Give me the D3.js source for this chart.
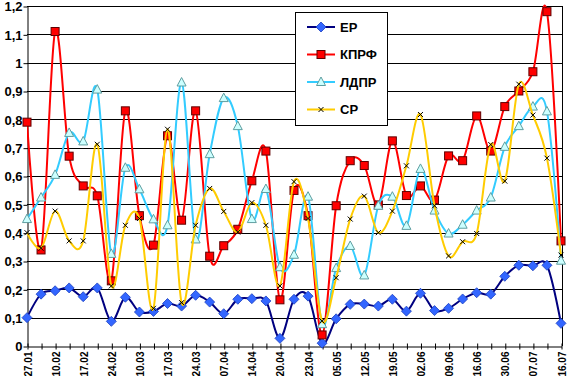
<!DOCTYPE html>
<html lang="ru">
<head>
    <meta charset="UTF-8">
    <title>Рейтинги партий</title>
    <script src="https://cdnjs.cloudflare.com/ajax/libs/d3/7.8.5/d3.min.js"></script>
    <style>
        body { margin: 0; background: #fff; }
        text { font-family: "Liberation Sans", Arial, sans-serif; font-weight: bold; }
    </style>
</head>
<body>
    <div id="chart"></div>
    <script>
        // подписи оси X (каждая вторая точка)
        const tickLabels = ['27.01', '10.02', '17.02', '24.02', '10.03', '17.03', '24.03', '07.04', '14.04', '20.04',
            '23.04', '05.05', '12.05', '19.05', '02.06', '09.06', '16.06', '30.06', '07.07', '16.07'];

        const seriesNames = ['ЕР', 'КПРФ', 'ЛДПР', 'СР'];

        // значения рядов (39 точек)
        const er = [0.10, 0.183, 0.195, 0.205, 0.174, 0.205, 0.087, 0.172, 0.12, 0.122,
            0.15, 0.141, 0.179, 0.155, 0.114, 0.165, 0.167, 0.159, 0.027,
            0.165, 0.176, 0.01, 0.096, 0.147, 0.148, 0.141, 0.165, 0.123, 0.186,
            0.125, 0.133, 0.166, 0.188, 0.183, 0.246, 0.285, 0.283, 0.285, 0.08];
        const kprf = [0.79, 0.339, 1.11, 0.67, 0.565, 0.53, 0.23, 0.83, 0.46, 0.356,
            0.742, 0.444, 0.83, 0.317, 0.354, 0.412, 0.583, 0.688, 0.163,
            0.549, 0.46, 0.039, 0.495, 0.654, 0.637, 0.498, 0.724, 0.531, 0.565,
            0.515, 0.671, 0.654, 0.812, 0.688, 0.845, 0.90, 0.968, 1.18, 0.371];
        const ldpr = [0.448, 0.524, 0.604, 0.752, 0.722, 0.905, 0.325, 0.629, 0.553, 0.447,
            0.426, 0.93, 0.376, 0.677, 0.875, 0.776, 0.448, 0.554, 0.278,
            0.322, 0.527, 0.077, 0.275, 0.353, 0.249, 0.495, 0.527, 0.424, 0.625,
            0.478, 0.397, 0.428, 0.478, 0.524, 0.703, 0.776, 0.845, 0.828, 0.301];
        const sr = [0.40, 0.345, 0.476, 0.371, 0.371, 0.712, 0.212, 0.426, 0.45, 0.133,
            0.765, 0.153, 0.426, 0.556, 0.475, 0.402, 0.506, 0.426, 0.212,
            0.58, 0.45, 0.088, 0.241, 0.448, 0.529, 0.40, 0.476, 0.636, 0.817,
            0.495, 0.318, 0.368, 0.397, 0.711, 0.582, 0.924, 0.815, 0.663, 0.321];

        const yTicks = [0, 0.1, 0.2, 0.3, 0.4, 0.5, 0.6, 0.7, 0.8, 0.9, 1, 1.1, 1.2];

        // размеры
        const width = 567, height = 376;
        const mLeft = 27, mRight = 562, mTop = 6, mBottom = 346;

        const svg = d3.select('#chart').append('svg')
            .attr('width', width)
            .attr('height', height);

        const x = d3.scaleLinear().domain([0, er.length - 1]).range([mLeft, mRight - 1]);
        const y = d3.scaleLinear().domain([0, 1.2]).range([mBottom, mTop]);

        // сетка
        svg.append('g').selectAll('line')
            .data(yTicks.slice(1))
            .enter().append('line')
            .attr('x1', mLeft).attr('x2', mRight)
            .attr('y1', d => Math.round(y(d)) + 0.5).attr('y2', d => Math.round(y(d)) + 0.5)
            .attr('stroke', '#000').attr('stroke-width', 1);

        // правая рамка
        svg.append('line')
            .attr('x1', mRight + 0.5).attr('x2', mRight + 0.5)
            .attr('y1', mTop).attr('y2', mBottom)
            .attr('stroke', '#000');

        // ось Y
        const fmt = d => String(+d.toFixed(1)).replace('.', ',');
        const yAxis = d3.axisLeft(y).tickValues(yTicks).tickFormat(fmt).tickSize(4).tickSizeOuter(0);
        const gy = svg.append('g')
            .attr('transform', `translate(${mLeft + 0.5},0.5)`)
            .call(yAxis);
        gy.select('.domain').attr('stroke', '#000');
        gy.selectAll('text').attr('font-size', 13).attr('font-family', null).attr('x', -5).attr('fill', '#000');

        // ось X
        const xAxis = d3.axisBottom(x).tickValues(d3.range(er.length)).tickSize(3).tickSizeOuter(0)
            .tickFormat(i => i % 2 === 0 ? tickLabels[i / 2] : '');
        const gx = svg.append('g')
            .attr('transform', `translate(0.5,${mBottom + 0.5})`)
            .call(xAxis);
        gx.select('.domain').attr('stroke', '#000');
        gx.selectAll('.tick line').attr('y1', -3);
        gx.selectAll('text')
            .attr('font-size', 10).attr('font-family', null).attr('fill', '#000')
            .attr('transform', 'rotate(-90)')
            .attr('text-anchor', 'end')
            .attr('x', -5).attr('y', 0).attr('dy', '0.35em');

        // клип области построения (только для линий)
        svg.append('clipPath').attr('id', 'plot')
            .append('rect').attr('x', mLeft).attr('y', mTop - 2).attr('width', mRight - mLeft + 2).attr('height', mBottom - mTop + 2);

        const line = d3.line()
            .x((d, i) => x(i))
            .y(d => y(d))
            .curve(d3.curveCardinal.tension(0));

        const series = [
            { name: seriesNames[0], values: er, color: '#000080' },
            { name: seriesNames[1], values: kprf, color: '#FF0000' },
            { name: seriesNames[2], values: ldpr, color: '#33CCFF' },
            { name: seriesNames[3], values: sr, color: '#FFCC00' }
        ];

        // маркеры
        function marker(g, k) {
            if (k === 0) {
                g.append('path').attr('d', 'M0,-5L5,0L0,5L-5,0Z')
                    .attr('fill', '#3366FF').attr('stroke', '#1a3fbf').attr('stroke-width', 0.8);
            } else if (k === 1) {
                g.append('rect').attr('x', -4).attr('y', -4).attr('width', 8).attr('height', 8)
                    .attr('fill', '#FF0000').attr('stroke', '#600000').attr('stroke-width', 1);
            } else if (k === 2) {
                g.append('path').attr('d', 'M0,-5L4.5,3.5L-4.5,3.5Z')
                    .attr('fill', '#CCFFFF').attr('stroke', '#5f9ea0').attr('stroke-width', 1);
            } else {
                g.append('path').attr('d', 'M-2.5,-2.5L2.5,2.5M-2.5,2.5L2.5,-2.5')
                    .attr('stroke', '#000').attr('stroke-width', 1);
            }
        }

        series.forEach((s, k) => {
            const g = svg.append('g');
            g.append('path')
                .attr('clip-path', 'url(#plot)')
                .attr('d', line(s.values))
                .attr('fill', 'none')
                .attr('stroke', s.color)
                .attr('stroke-width', 2);
            g.selectAll('.m')
                .data(s.values)
                .enter().append('g')
                .attr('class', 'm')
                .attr('transform', (d, i) => `translate(${x(i)},${y(d)})`)
                .each(function () { marker(d3.select(this), k); });
        });

        // легенда
        const lg = svg.append('g').attr('transform', 'translate(295,12)');
        lg.append('rect').attr('x', 0.5).attr('y', 0.5).attr('width', 92).attr('height', 113)
            .attr('fill', '#fff').attr('stroke', '#000');
        series.forEach((s, k) => {
            const row = lg.append('g').attr('transform', `translate(0,${15 + k * 27.5})`);
            row.append('line').attr('x1', 12).attr('x2', 40).attr('y1', 0).attr('y2', 0)
                .attr('stroke', s.color).attr('stroke-width', 2);
            const m = row.append('g').attr('transform', 'translate(26,0)');
            marker(m, k);
            row.append('text').attr('x', 45).attr('y', 0).attr('dy', '0.36em')
                .attr('font-size', 13).text(s.name);
        });
    </script>
</body>
</html>
